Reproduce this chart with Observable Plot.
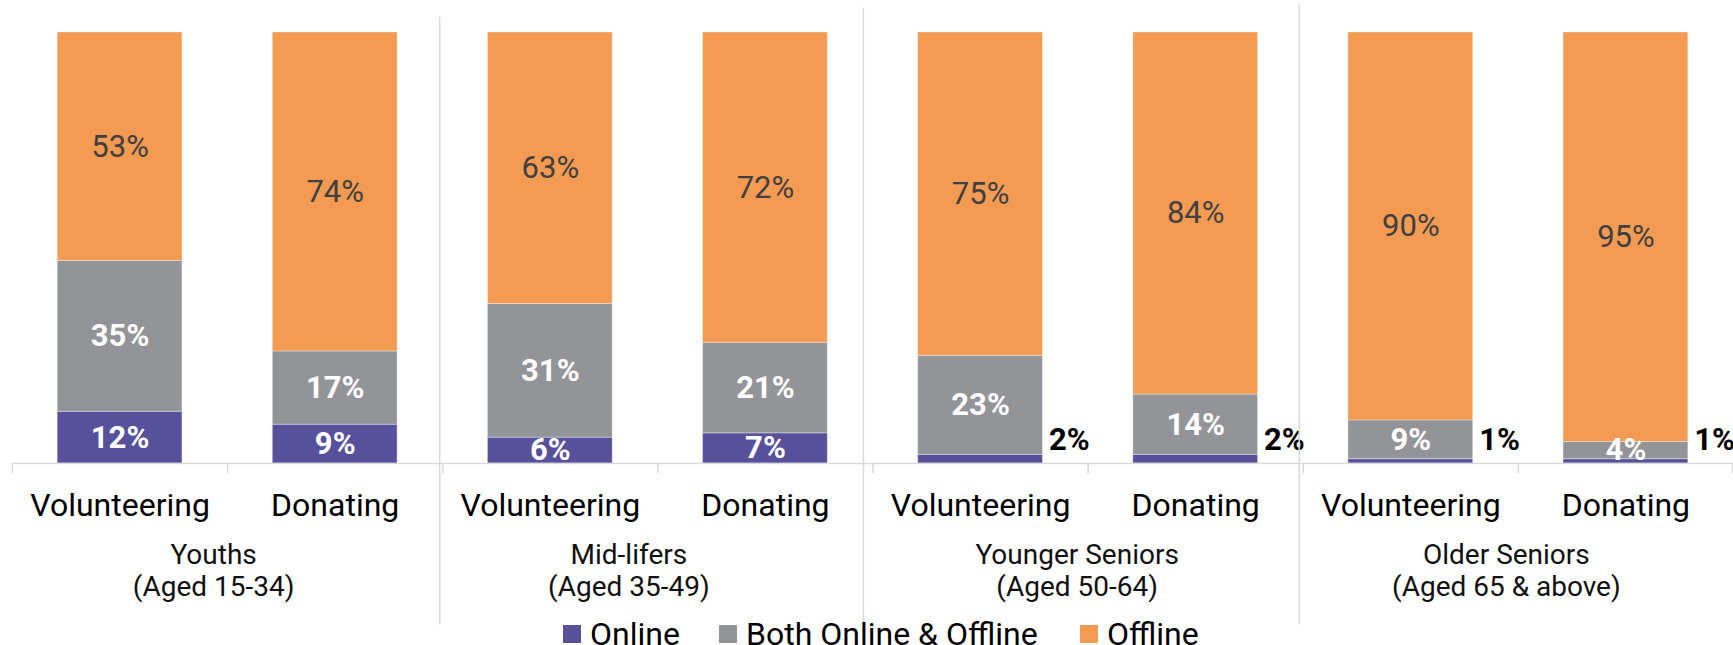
<!DOCTYPE html>
<html><head><meta charset="utf-8">
<script src="https://cdn.jsdelivr.net/npm/d3@7"></script>
<script src="https://cdn.jsdelivr.net/npm/@observablehq/plot@0.6"></script>
<style>
body{margin:0;background:#fff;font-family:Roboto,sans-serif;overflow:hidden}
#chart{position:relative;width:1733px;height:645px;overflow:hidden}
#legend{position:absolute;left:0;top:618px;width:1733px;height:32px;font-size:32px;line-height:32px;color:#000}
.sw{position:absolute;top:7px;width:18px;height:18px}
.lab{position:absolute;top:0;white-space:nowrap}
</style></head><body><div id="chart"></div>
<script>
// ---- data ----
const groups = ["Youths\n(Aged 15-34)", "Mid-lifers\n(Aged 35-49)", "Younger Seniors\n(Aged 50-64)", "Older Seniors\n(Aged 65 & above)"];
const activities = ["Volunteering", "Donating"];
const seriesNames = ["Online", "Both Online & Offline", "Offline"];
const online  = [12, 9, 6, 7, 2, 2, 1, 1];
const both    = [35, 17, 31, 21, 23, 14, 9, 4];
const offline = [53, 74, 63, 72, 75, 84, 90, 95];
const dividerTops = [103.5, 105.6, 106.3];
const seriesColors = ["#57509b", "#939497", "#f39a53"];

// ---- build table ----
const keys = [];
const cats = [];
const rows = [];
const seriesValues = [online, both, offline];
for (let i = 0; i < 8; i++) {
  const g = groups[Math.floor(i / 2)], a = activities[i % 2];
  const key = g + "|" + a;
  keys.push(key);
  cats.push({key, group: g, activity: a, idx: i});
  let base = 0;
  seriesNames.forEach((s, si) => {
    const v = seriesValues[si][i];
    rows.push({key, series: s, si, value: v, y1: base, y2: base + v, mid: base + v / 2, label: v + "%"});
    base += v;
  });
}

const W = 1733, H = 624, ML = 12, MR = 0;
const step = (W - ML - MR) / 8;
const bw = step * 0.58;
const dividerDx = [-3, -9.5, -4];
const groupDx = [-14, -29, -11, -12];

const marks = [
  Plot.barY(rows, {x: "key", y1: "y1", y2: "y2", fill: "series", stroke: "white", strokeOpacity: 0.35, strokeWidth: 1}),
  // inside labels
  Plot.text(rows.filter(d => d.si === 2), {x: "key", y: "mid", text: "label", fill: "#404040", fontSize: 31}),
  Plot.text(rows.filter(d => d.si === 1 || (d.si === 0 && d.value >= 3)), {x: "key", y: "mid", text: "label", fill: "white", fontWeight: "bold", fontSize: 31}),
  // outside labels for tiny online values
  Plot.text(rows.filter(d => d.si === 0 && d.value < 3), {x: "key", y: 0, text: "label", fill: "#000", fontWeight: "bold", fontSize: 31, textAnchor: "start", lineAnchor: "bottom", dx: bw / 2 + 6, dy: -14}),
  // axis line
  Plot.ruleY([0], {stroke: "#d9d9d9", strokeWidth: 1.5}),
  // ticks at band boundaries
  Plot.ruleX(cats, {x: "key", y1: 0, y2: -2.35, dx: -step / 2, stroke: "#d9d9d9", strokeWidth: 1.5}),
  Plot.ruleX([keys[7]], {y1: 0, y2: -2.35, dx: step / 2 - 1, stroke: "#d9d9d9", strokeWidth: 1.5}),
  // category labels
  Plot.text(cats, {x: "key", y: 0, text: "activity", dy: 52, lineAnchor: "bottom", fontSize: 32, fill: "#000"})
];
// group labels
cats.filter(d => d.idx % 2 === 0).forEach((d, j) => {
  marks.push(Plot.text([d], {x: "key", y: 0, text: "group", dx: step / 2 + groupDx[j], dy: 132, lineAnchor: "bottom", lineHeight: 1.11, fontSize: 28, fill: "#111"}));
});
dividerTops.forEach((t, j) => {
  marks.push(Plot.ruleX([keys[2 * (j + 1)]], {y1: t, y2: -37.4, dx: -step / 2 + dividerDx[j], stroke: "#d9d9d9", strokeWidth: 1.5}));
});

const chart = Plot.plot({
  width: W, height: H,
  marginLeft: ML, marginRight: MR, marginTop: 32, marginBottom: 161,
  style: {fontFamily: "Roboto, sans-serif", background: "white", overflow: "visible"},
  x: {domain: keys, type: "band", paddingInner: 0.42, paddingOuter: 0.21, align: 0.5, round: false, axis: null},
  y: {domain: [0, 100], axis: null},
  color: {domain: seriesNames, range: seriesColors},
  marks
});
const root = document.getElementById("chart");
root.appendChild(chart);

// legend
const legend = document.createElement("div");
legend.id = "legend";
const legendX = [563, 719, 1080];
seriesNames.forEach((s, i) => {
  const sw = document.createElement("div");
  sw.className = "sw"; sw.style.left = legendX[i] + "px"; sw.style.background = seriesColors[i];
  const lab = document.createElement("div");
  lab.className = "lab"; lab.style.left = (legendX[i] + 27) + "px"; lab.textContent = s;
  legend.appendChild(sw); legend.appendChild(lab);
});
root.appendChild(legend);
</script>
</body></html>
